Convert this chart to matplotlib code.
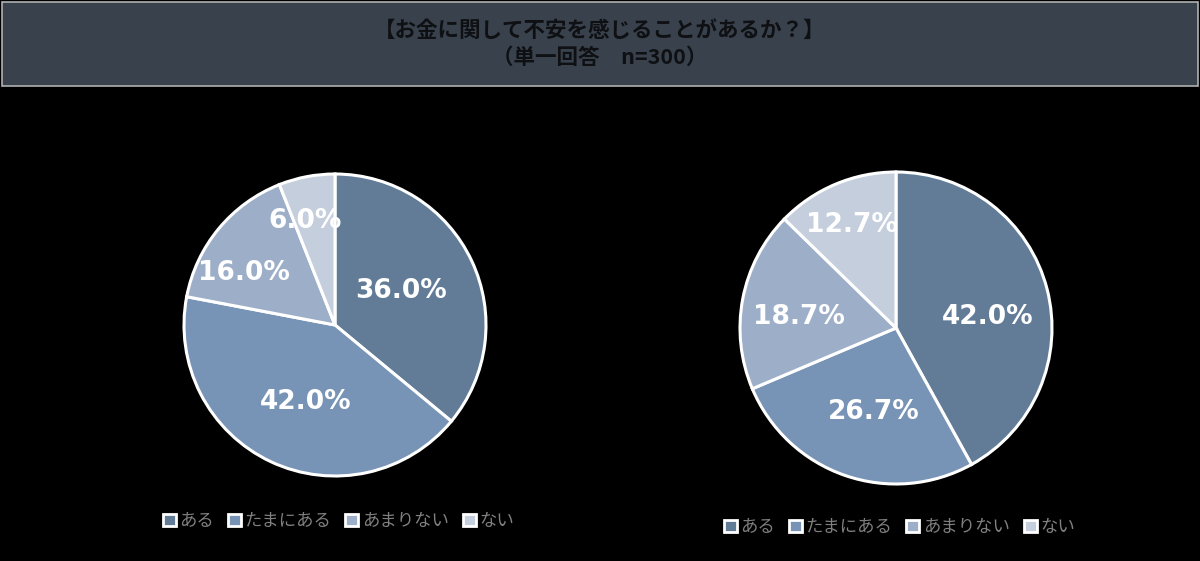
import matplotlib
matplotlib.use("Agg")
import matplotlib.pyplot as plt
from matplotlib.patches import Rectangle, Patch
import numpy as np

plt.rcParams['font.family'] = ['Noto Sans CJK JP', 'DejaVu Sans']

categories = ["ある", "たまにある", "あまりない", "ない"]
values_left = [36.0, 42.0, 16.0, 6.0]
values_right = [42.0, 26.7, 18.7, 12.7]
title_lines = ["【お金に関して不安を感じることがあるか？】", "（単一回答　n=300）"]

colors = ["#627c98", "#7793b5", "#9dafc8", "#c5cedd"]
# label placement: radial distance (fraction of radius) and angular offset (deg) from wedge middle
label_dist_left = [0.49, 0.545, 0.694, 0.717]
label_off_left = [2.1, 4.6, 9.9, 5.3]
label_dist_right = [0.594, 0.558, 0.626, 0.716]
label_off_right = [-7.6, 4.0, 4.5, 0.2]

W, H = 1200, 561
fig = plt.figure(figsize=(12, 5.61), dpi=100)
fig.patch.set_facecolor("black")

# title box
fig.add_artist(Rectangle((2 / W, 1 - 86 / H), 1 - 4 / W, 84 / H, transform=fig.transFigure,
                         facecolor="#39424c", edgecolor="#b0b0b0", linewidth=1.2))
fig.text(0.5, 1 - 30 / H, title_lines[0], ha="center", va="center", fontsize=15.5,
         fontweight="bold", color="#0e1013")
fig.text(0.5, 1 - 57 / H, title_lines[1], ha="center", va="center", fontsize=15.5,
         fontweight="bold", color="#0e1013")


def draw_pie(cx, cy, r, vals, dists, offs, legend_y, legend_x):
    m = 1.02
    R = r * m
    ax = fig.add_axes([(cx - R) / W, (H - cy - R) / H, 2 * R / W, 2 * R / H])
    ax.set_facecolor("black")
    wedges, _ = ax.pie(vals, colors=colors, startangle=90, counterclock=False,
                       wedgeprops=dict(edgecolor="white", linewidth=2.2))
    ax.set_xlim(-m, m)
    ax.set_ylim(-m, m)
    ax.set_aspect("equal")
    ax.axis("off")
    for w, v, d, o in zip(wedges, vals, dists, offs):
        ang = np.deg2rad((w.theta1 + w.theta2) / 2 + o)
        ax.text(d * np.cos(ang), d * np.sin(ang), f"{v:.1f}%", ha="center", va="center",
                fontsize=19, fontweight="bold", color="white", family="DejaVu Sans")
    handles = [Patch(facecolor=c, edgecolor="white", linewidth=2) for c in colors]
    leg = fig.legend(handles, categories, loc="center left",
                     bbox_to_anchor=(legend_x / W, 1 - legend_y / H), ncol=4, frameon=False,
                     fontsize=12.5, handlelength=0.75, handleheight=0.75, handletextpad=0.2,
                     columnspacing=0.8, borderpad=0, borderaxespad=0)
    for t in leg.get_texts():
        t.set_color("#808080")


draw_pie(335, 325, 151, values_left, label_dist_left, label_off_left, 521, 163)
draw_pie(896, 328, 156, values_right, label_dist_right, label_off_right, 527, 724)

fig.savefig("out.png", dpi=100, facecolor="black")
